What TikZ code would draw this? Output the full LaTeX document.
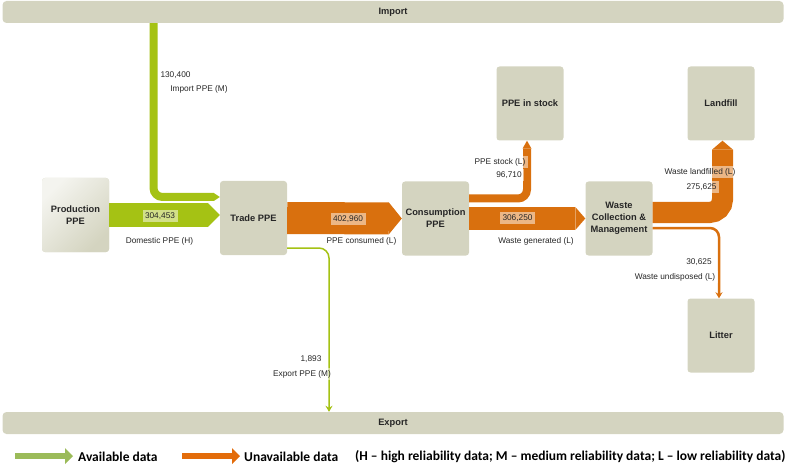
\documentclass[tikz,border=0pt]{standalone}
\usepackage{fontspec}
\setmainfont{Liberation Sans}
\newfontfamily\legendfont{Carlito}
\usetikzlibrary{arrows.meta}
\definecolor{stagefill}{RGB}{212,212,192}
\definecolor{flowgreen}{RGB}{165,194,20}
\definecolor{floworange}{RGB}{217,112,14}
\definecolor{legendgreen}{RGB}{155,187,89}
\definecolor{legendorange}{RGB}{227,108,10}

\begin{document}
\begin{tikzpicture}[x=1pt,y=-1pt,
		stage/.style={fill=stagefill,rounded corners=3pt,minimum width=67pt,minimum height=74pt,align=center,text=black!85,font=\bfseries\fontsize{9.3}{11.8}\selectfont},
		bar/.style={fill=stagefill,rounded corners=4pt,minimum width=781pt,minimum height=22pt,text=black!85,font=\bfseries\fontsize{9.3}{11}\selectfont},
		gflow/.style={draw=flowgreen},
		oflow/.style={draw=floworange},
		flowhead/.style 2 args={-{Triangle[length=#1,width=#2,line width=0pt]}},
		val/.style={fill=white,fill opacity=0.5,text opacity=1,text=black!85,inner sep=2.5pt,font=\fontsize{8.3}{10}\selectfont},
		legend/.style={anchor=west,inner sep=0pt,text=black,font=\legendfont\bfseries\fontsize{13.5}{15}\selectfont}]
				\useasboundingbox (0,0) rectangle (785,468);
				\node[bar] (import) at (393,12) {Import};
				\node[bar] (export) at (393,423) {Export};
				\node[stage,top color=stagefill!25!white,bottom color=stagefill,shading angle=45] (prod) at (75.5,215) {Production\\PPE};
				\node[stage] (trade) at (253.5,218) {Trade PPE};
				\node[stage] (cons) at (435.5,218.5) {Consumption\\PPE};
				\node[stage] (stock) at (530,103.5) {PPE in stock};
				\node[stage] (waste) at (619,218.5) {Waste\\Collection \&\\Management};
				\node[stage] (landfill) at (721,103.5) {Landfill};
				\node[stage] (litter) at (721,335.5) {Litter};

				\coordinate (imp) at (153.5,197);
				\coordinate (stk) at (527,198.5);
				\coordinate (lnd) at (722.5,212.5);
				\coordinate (ltr) at (719,228);
				\coordinate (exp) at (329,248);
				\draw[gflow,line width=8pt,rounded corners=9pt,flowhead={6pt}{8pt}] (imp |- import.south) |- (trade.west |- imp);
				\draw[gflow,line width=24pt,flowhead={12pt}{24pt}] (prod.east) -- (prod.east -| trade.west);
				\draw[oflow,line width=32pt,flowhead={13pt}{32pt}] (trade.east) -- (cons.west);
				\draw[oflow,line width=8pt,rounded corners=9pt,flowhead={8pt}{9pt}] (cons.east |- stk) -| (stock.south -| stk);
				\draw[oflow,line width=23pt,flowhead={10pt}{23pt}] (cons.east) -- (cons.east -| waste.west);
				\draw[oflow,line width=21pt,rounded corners=13pt,flowhead={9pt}{21pt}] (waste.east |- lnd) -| (landfill.south -| lnd);
				\draw[oflow,line width=2.5pt,rounded corners=9pt,-{Stealth[length=6pt,width=7pt]}] (waste.east |- ltr) -| (litter.north -| ltr);
				\draw[gflow,line width=1.5pt,rounded corners=10pt,-{Stealth[length=6pt,width=7pt]}] (trade.east |- exp) -| (export.north -| exp);

				\node[val] (impval) at (175.5,75) {130,400};
				\node[val] (implbl) at (199,89) {Import PPE (M)};
				\node[val] (domval) at (160,216) {304,453};
				\node[val] (domlbl) at (159.5,241) {Domestic PPE (H)};
				\node[val] (conval) at (348,219) {402,960};
				\node[val] (conlbl) at (361.5,241) {PPE consumed (L)};
				\node[val] (stklbl) at (500,162) {PPE stock (L)};
				\node[val] (stkval) at (509,175) {96,710};
				\node[val] (genval) at (517.5,218) {306,250};
				\node[val] (genlbl) at (536,241) {Waste generated (L)};
				\node[val] (lndlbl) at (700,172) {Waste landfilled (L)};
				\node[val] (lndval) at (701.5,187) {275,625};
				\node[val] (ltrval) at (699,262) {30,625};
				\node[val] (ltrlbl) at (675,277) {Waste undisposed (L)};
				\node[val] (expval) at (311,359) {1,893};
				\node[val] (explbl) at (302,374) {Export PPE (M)};

				\coordinate (ga) at (15,456);
				\coordinate (gb) at (73,456);
				\coordinate (oa) at (182,456);
				\coordinate (ob) at (240,456);
				\draw[draw=legendgreen,line width=6pt,-{Triangle[length=8pt,width=16pt,line width=0pt]}] (ga) -- (gb);
				\draw[draw=legendorange,line width=6pt,-{Triangle[length=8pt,width=16pt,line width=0pt]}] (oa) -- (ob);
				\node[legend] (avail) at (78,457) {Available data};
				\node[legend] (unavail) at (244,457) {Unavailable data};
				\node[legend] (reliab) at (355,457) {(H – high reliability data; M – medium reliability data; L – low reliability data)};
			\end{tikzpicture}
\end{document}
